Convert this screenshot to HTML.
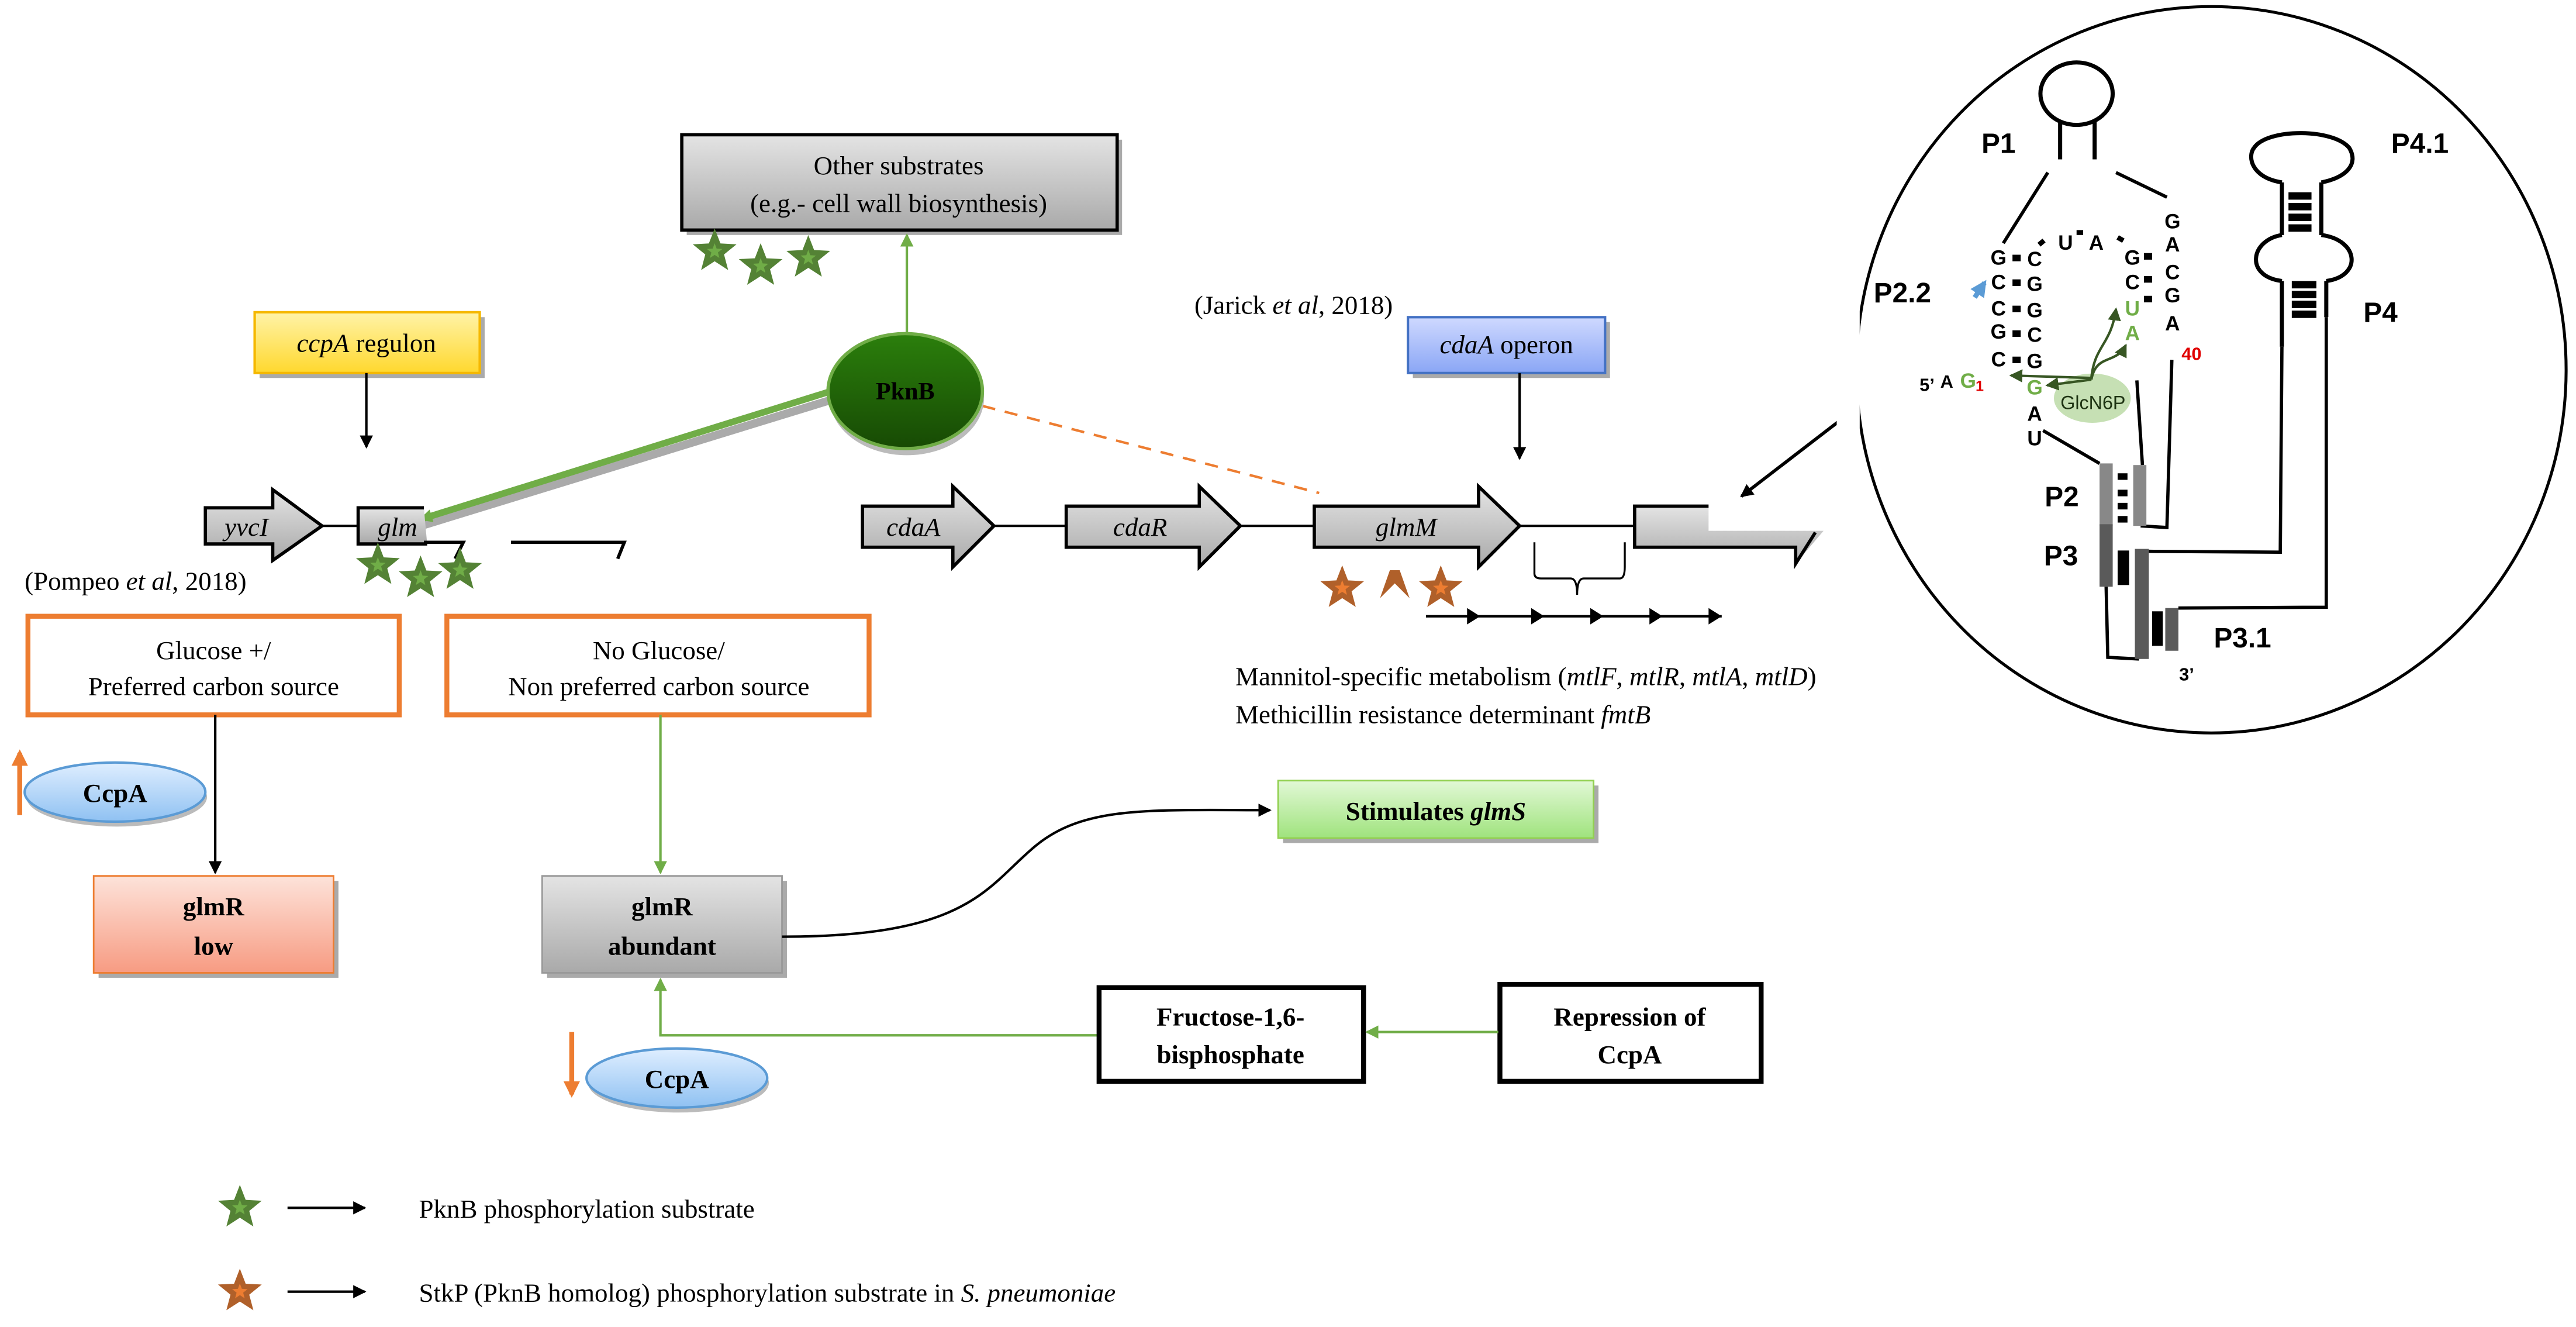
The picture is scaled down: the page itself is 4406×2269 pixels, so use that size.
<!DOCTYPE html>
<html><head><meta charset="utf-8"><style>
html,body{margin:0;padding:0;background:#fff;}
svg{display:block}
.s{font-family:"Liberation Serif",serif;}
.b{font-family:"Liberation Sans",sans-serif;font-weight:bold;}
</style></head><body>
<svg width="4406" height="2269" viewBox="0 0 1568 807.5" xmlns="http://www.w3.org/2000/svg">
<defs>
<linearGradient id="gr" x1="0" y1="0" x2="0" y2="1"><stop offset="0" stop-color="#e4e4e4"/><stop offset="1" stop-color="#a9a9a9"/></linearGradient>
<linearGradient id="yl" x1="0" y1="0" x2="0" y2="1"><stop offset="0" stop-color="#fff3a8"/><stop offset="1" stop-color="#ffd82e"/></linearGradient>
<linearGradient id="bl" x1="0" y1="0" x2="0" y2="1"><stop offset="0" stop-color="#cfd9ff"/><stop offset="1" stop-color="#8aa6f5"/></linearGradient>
<linearGradient id="gn" x1="0" y1="0" x2="0" y2="1"><stop offset="0" stop-color="#e2f8d6"/><stop offset="1" stop-color="#9fe37d"/></linearGradient>
<linearGradient id="rd" x1="0" y1="0" x2="0" y2="1"><stop offset="0" stop-color="#fde3da"/><stop offset="1" stop-color="#f79b82"/></linearGradient>
<linearGradient id="cb" x1="0" y1="0" x2="0" y2="1"><stop offset="0" stop-color="#dfeeff"/><stop offset="1" stop-color="#8fc1f2"/></linearGradient>
<linearGradient id="pk" x1="0" y1="0" x2="0" y2="1"><stop offset="0" stop-color="#2b7f0c"/><stop offset="1" stop-color="#174a04"/></linearGradient>
<marker id="ab" markerWidth="8" markerHeight="8" refX="7" refY="4" orient="auto" markerUnits="userSpaceOnUse"><path d="M0,0 L8,4 L0,8 z" fill="#000"/></marker>
<marker id="ag" markerWidth="8" markerHeight="8" refX="7" refY="4" orient="auto" markerUnits="userSpaceOnUse"><path d="M0,0 L8,4 L0,8 z" fill="#70ad47"/></marker>
<marker id="ao" markerWidth="10" markerHeight="10" refX="8" refY="5" orient="auto" markerUnits="userSpaceOnUse"><path d="M0,0 L10,5 L0,10 z" fill="#ed7d31"/></marker>
<marker id="ad" markerWidth="8" markerHeight="8" refX="7" refY="4" orient="auto" markerUnits="userSpaceOnUse"><path d="M0,0 L8,4 L0,8 z" fill="#375623"/></marker>
<marker id="abl" markerWidth="10" markerHeight="10" refX="8" refY="5" orient="auto" markerUnits="userSpaceOnUse"><path d="M0,0 L10,5 L0,10 z" fill="#5b9bd5"/></marker>
<g id="gs"><polygon points="0,-14 3.53,-4.85 13.31,-4.33 5.71,1.85 8.23,11.33 0,6 -8.23,11.33 -5.71,1.85 -13.31,-4.33 -3.53,-4.85" fill="#548235"/><polygon points="0,-5 1.2,-1.7 4.7,-1.5 2,0.6 2.9,4 0,2.1 -2.9,4 -2,0.6 -4.7,-1.5 -1.2,-1.7" fill="#70ad47"/></g>
<g id="os"><polygon points="0,-14 3.53,-4.85 13.31,-4.33 5.71,1.85 8.23,11.33 0,6 -8.23,11.33 -5.71,1.85 -13.31,-4.33 -3.53,-4.85" fill="#b0602a"/><polygon points="0,-5 1.2,-1.7 4.7,-1.5 2,0.6 2.9,4 0,2.1 -2.9,4 -2,0.6 -4.7,-1.5 -1.2,-1.7" fill="#ed7d31"/></g>
</defs>

<rect x="418" y="85" width="265" height="58" fill="#aaa"/>
<rect x="415" y="82" width="265" height="58" fill="url(#gr)" stroke="#000" stroke-width="2"/>
<text class="s" x="547" y="106" font-size="16" text-anchor="middle">Other substrates</text>
<text class="s" x="547" y="129" font-size="16" text-anchor="middle">(e.g.- cell wall biosynthesis)</text>
<use href="#gs" x="435" y="153"/><use href="#gs" x="463" y="162"/><use href="#gs" x="492" y="157"/>
<line x1="552" y1="203" x2="552" y2="143" stroke="#70ad47" stroke-width="1.5" marker-end="url(#ag)"/>

<rect x="158" y="193" width="137" height="37" fill="#aaa"/>
<rect x="155" y="190" width="137" height="37" fill="url(#yl)" stroke="#f5b800" stroke-width="1.5"/>
<text class="s" x="223" y="214" font-size="16" text-anchor="middle"><tspan font-style="italic">ccpA</tspan>  regulon</text>
<line x1="223" y1="227" x2="223" y2="272" stroke="#000" stroke-width="1.5" marker-end="url(#ab)"/>

<line x1="506" y1="240" x2="252" y2="318" stroke="#aaa" stroke-width="5" transform="translate(1,3)"/>
<line x1="506" y1="238" x2="256" y2="316" stroke="#70ad47" stroke-width="4" marker-end="url(#ag)"/>
<line x1="598" y1="247" x2="803" y2="300" stroke="#ed7d31" stroke-width="1.5" stroke-dasharray="8,6"/>
<ellipse cx="552" cy="242" rx="47" ry="35" fill="#bbb"/>
<ellipse cx="551" cy="238" rx="47" ry="35" fill="url(#pk)" stroke="#70ad47" stroke-width="2"/>
<text class="s" x="551" y="243" font-size="15" font-weight="bold" text-anchor="middle">PknB</text>

<path d="M125,309 H166 V298 L196,320 L166,341 V331 H125 Z" fill="url(#gr)" stroke="#000" stroke-width="2"/>
<text class="s" x="150" y="326" font-size="16" font-style="italic" text-anchor="middle">yvcI</text>
<line x1="196" y1="320" x2="218" y2="320" stroke="#000" stroke-width="1.5"/>
<path d="M258,309 H218 V331 H260" fill="url(#gr)" stroke="#000" stroke-width="2"/>
<text class="s" x="230" y="326" font-size="16" font-style="italic">glm</text>
<path d="M258,330 H282 L277,340" fill="none" stroke="#000" stroke-width="2"/>
<path d="M311,330 H380 L376,340" fill="none" stroke="#000" stroke-width="2"/>
<use href="#gs" x="230" y="344"/><use href="#gs" x="256" y="352"/><use href="#gs" x="280" y="347"/>
<text class="s" x="15" y="359" font-size="16">(Pompeo <tspan font-style="italic">et al</tspan>, 2018)</text>

<rect x="17" y="375" width="226" height="60" fill="#fff" stroke="#ed7d31" stroke-width="3"/>
<text class="s" x="130" y="401" font-size="16" text-anchor="middle">Glucose +/</text>
<text class="s" x="130" y="423" font-size="16" text-anchor="middle">Preferred carbon source</text>
<rect x="272" y="375" width="257" height="60" fill="#fff" stroke="#ed7d31" stroke-width="3"/>
<text class="s" x="401" y="401" font-size="16" text-anchor="middle">No Glucose/</text>
<text class="s" x="401" y="423" font-size="16" text-anchor="middle">Non preferred carbon source</text>
<line x1="131" y1="435" x2="131" y2="531" stroke="#000" stroke-width="1.5" marker-end="url(#ab)"/>
<line x1="402" y1="435" x2="402" y2="531" stroke="#70ad47" stroke-width="1.5" marker-end="url(#ag)"/>

<line x1="12" y1="496" x2="12" y2="458" stroke="#ed7d31" stroke-width="3" marker-end="url(#ao)"/>
<ellipse cx="71" cy="485" rx="55" ry="18" fill="#bbb"/>
<ellipse cx="70" cy="482" rx="55" ry="18" fill="url(#cb)" stroke="#5b9bd5" stroke-width="1.5"/>
<text class="s" x="70" y="488" font-size="16" font-weight="bold" text-anchor="middle">CcpA</text>

<rect x="60" y="536" width="146" height="59" fill="#aaa"/>
<rect x="57" y="533" width="146" height="59" fill="url(#rd)" stroke="#ed7d31" stroke-width="1"/>
<text class="s" x="130" y="557" font-size="16" font-weight="bold" text-anchor="middle">glmR</text>
<text class="s" x="130" y="581" font-size="16" font-weight="bold" text-anchor="middle">low</text>

<rect x="333" y="536" width="146" height="59" fill="#aaa"/>
<rect x="330" y="533" width="146" height="59" fill="url(#gr)" stroke="#999" stroke-width="1"/>
<text class="s" x="403" y="557" font-size="16" font-weight="bold" text-anchor="middle">glmR</text>
<text class="s" x="403" y="581" font-size="16" font-weight="bold" text-anchor="middle">abundant</text>

<path d="M476,570 C590,570 600,540 630,515 C660,490 700,493 773,493" fill="none" stroke="#000" stroke-width="1.5" marker-end="url(#ab)"/>
<rect x="781" y="478" width="192" height="35" fill="#aaa"/>
<rect x="778" y="475" width="192" height="35" fill="url(#gn)" stroke="#92d050" stroke-width="1"/>
<text class="s" x="874" y="499" font-size="16" font-weight="bold" text-anchor="middle">Stimulates <tspan font-style="italic">glmS</tspan></text>

<line x1="348" y1="628" x2="348" y2="666" stroke="#ed7d31" stroke-width="3" marker-end="url(#ao)"/>
<ellipse cx="413" cy="659" rx="55" ry="18" fill="#bbb"/>
<ellipse cx="412" cy="656" rx="55" ry="18" fill="url(#cb)" stroke="#5b9bd5" stroke-width="1.5"/>
<text class="s" x="412" y="662" font-size="16" font-weight="bold" text-anchor="middle">CcpA</text>
<path d="M668,630 H402 V596" fill="none" stroke="#70ad47" stroke-width="1.5" marker-end="url(#ag)"/>
<rect x="669" y="601" width="161" height="57" fill="#fff" stroke="#000" stroke-width="3"/>
<text class="s" x="749" y="624" font-size="16" font-weight="bold" text-anchor="middle">Fructose-1,6-</text>
<text class="s" x="749" y="647" font-size="16" font-weight="bold" text-anchor="middle">bisphosphate</text>
<rect x="913" y="599" width="159" height="59" fill="#fff" stroke="#000" stroke-width="3"/>
<text class="s" x="992" y="624" font-size="16" font-weight="bold" text-anchor="middle">Repression of</text>
<text class="s" x="992" y="647" font-size="16" font-weight="bold" text-anchor="middle">CcpA</text>
<line x1="912" y1="628" x2="832" y2="628" stroke="#70ad47" stroke-width="1.5" marker-end="url(#ag)"/>

<text class="s" x="727" y="191" font-size="16">(Jarick <tspan font-style="italic">et al</tspan>, 2018)</text>
<rect x="860" y="196" width="120" height="34" fill="#aaa"/>
<rect x="857" y="193" width="120" height="34" fill="url(#bl)" stroke="#4472c4" stroke-width="1.5"/>
<text class="s" x="917" y="215" font-size="16" text-anchor="middle"><tspan font-style="italic">cdaA</tspan>  operon</text>
<line x1="925" y1="227" x2="925" y2="279" stroke="#000" stroke-width="1.5" marker-end="url(#ab)"/>
<line x1="605" y1="320" x2="649" y2="320" stroke="#000" stroke-width="1.5"/>
<line x1="755" y1="320" x2="800" y2="320" stroke="#000" stroke-width="1.5"/>
<line x1="925" y1="320" x2="995" y2="320" stroke="#000" stroke-width="1.5"/>
<path d="M525,308 H580 V296 L605,320 L580,345 V333 H525 Z" fill="url(#gr)" stroke="#000" stroke-width="2"/>
<text class="s" x="556" y="326" font-size="16" font-style="italic" text-anchor="middle">cdaA</text>
<path d="M649,308 H730 V296 L755,320 L730,345 V333 H649 Z" fill="url(#gr)" stroke="#000" stroke-width="2"/>
<text class="s" x="694" y="326" font-size="16" font-style="italic" text-anchor="middle">cdaR</text>
<path d="M800,308 H900 V296 L925,320 L900,345 V333 H800 Z" fill="url(#gr)" stroke="#000" stroke-width="2"/>
<text class="s" x="856" y="326" font-size="16" font-style="italic" text-anchor="middle">glmM</text>
<path d="M1040,308 H995 V333 H1093 V343 L1110,323 H1040 Z" fill="url(#gr)"/>
<path d="M1040,308 H995 V333 H1093 V343 L1105,324" fill="none" stroke="#000" stroke-width="2"/>
<path d="M934,330 V349 Q934,352 938,352 H956 Q960,352 960,362 Q960,352 964,352 H986 Q989,352 989,345 V330" fill="none" stroke="#000" stroke-width="1.2"/>
<use href="#os" x="817" y="358"/><use href="#os" x="877" y="358"/>
<path d="M840,364 L846,347 L852,347 L858,364 L849,355 Z" fill="#b0602a"/>
<line x1="868" y1="375" x2="1048" y2="375" stroke="#000" stroke-width="1.5"/>
<g fill="#000"><path d="M893,370 L901,375 L893,380Z"/><path d="M932,370 L940,375 L932,380Z"/><path d="M968,370 L976,375 L968,380Z"/><path d="M1004,370 L1012,375 L1004,380Z"/><path d="M1040,370 L1048,375 L1040,380Z"/></g>
<text class="s" x="752" y="417" font-size="16">Mannitol-specific metabolism (<tspan font-style="italic">mtlF</tspan>, <tspan font-style="italic">mtlR</tspan>, <tspan font-style="italic">mtlA</tspan>, <tspan font-style="italic">mtlD</tspan>)</text>
<text class="s" x="752" y="440" font-size="16">Methicillin resistance determinant <tspan font-style="italic">fmtB</tspan></text>
<line x1="1125" y1="252" x2="1060" y2="302" stroke="#000" stroke-width="2" marker-end="url(#ab)"/>

<ellipse cx="1346" cy="225" rx="216" ry="221" fill="none" stroke="#000" stroke-width="1.8"/>
<rect x="1118" y="140" width="14" height="185" fill="#fff"/>
<g stroke="#000" stroke-width="2" fill="none">
<ellipse cx="1264" cy="57" rx="22" ry="19" stroke-width="2.5"/>
<line x1="1254" y1="73" x2="1254" y2="97" stroke-width="2.5"/>
<line x1="1275" y1="73" x2="1275" y2="97" stroke-width="2.5"/>
<line x1="1246.5" y1="105" x2="1219.4" y2="148"/>
<line x1="1288" y1="105" x2="1319" y2="120"/>
<line x1="1243.6" y1="262" x2="1278" y2="282"/>
<line x1="1300.7" y1="231.5" x2="1304.1" y2="283"/>
<polyline points="1322,219 1319,321 1303,320"/>
<polyline points="1282,357 1283,400 1302,401"/>
<polyline points="1308,335.5 1388,336 1389,211"/>
<polyline points="1326,370 1416,369.5 1416,193"/>
<path d="M1389,111 C1370,108 1368,95 1372,90 C1380,78 1420,78 1430,90 C1436,100 1428,108 1413,111" stroke-width="2.5"/>
<line x1="1389" y1="111" x2="1389" y2="143" stroke-width="2.5"/>
<line x1="1413" y1="111" x2="1413" y2="143" stroke-width="2.5"/>
<path d="M1389,143 C1370,146 1366,168 1389,171 M1413,143 C1436,146 1438,168 1416,171" stroke-width="2.5"/>
<line x1="1389" y1="171" x2="1389" y2="211" stroke-width="2.5"/>
<line x1="1416" y1="171" x2="1416" y2="193" stroke-width="2.5"/>
</g>
<g fill="#000">
<rect x="1393" y="117" width="14" height="4.5"/><rect x="1393" y="123.5" width="14" height="4.5"/><rect x="1393" y="130" width="14" height="4.5"/><rect x="1393" y="136.5" width="14" height="4.5"/>
<rect x="1395" y="171" width="15" height="4.5"/><rect x="1395" y="177" width="15" height="4.5"/><rect x="1395" y="183" width="15" height="4.5"/><rect x="1395" y="189" width="15" height="4.5"/>
</g>
<rect x="1278" y="282" width="8" height="38" fill="#888"/>
<rect x="1298.5" y="283" width="8" height="37" fill="#888"/>
<rect x="1278" y="319" width="8" height="38" fill="#5a5a5a"/>
<rect x="1299.5" y="334" width="8.5" height="67" fill="#5a5a5a"/>
<rect x="1318" y="370" width="8" height="26" fill="#5a5a5a"/>
<g fill="#000">
<rect x="1289" y="288" width="6" height="4"/><rect x="1289" y="298" width="6" height="4"/><rect x="1289" y="306" width="6" height="4"/><rect x="1289" y="314" width="6" height="4"/>
<rect x="1289" y="335" width="7" height="21"/>
<rect x="1310" y="372" width="6.5" height="21"/>
<rect x="1225" y="155" width="5" height="4"/><rect x="1225" y="170" width="5" height="4"/><rect x="1225" y="186" width="5" height="4"/><rect x="1225" y="201" width="5" height="4"/><rect x="1225" y="217" width="5" height="4"/>
<rect x="1305" y="154" width="5" height="4"/><rect x="1305" y="168" width="5" height="4"/><rect x="1305" y="180" width="5" height="4"/>
<rect x="1264" y="140" width="4" height="3"/>
<rect x="1241" y="146" width="4" height="3" transform="rotate(-40 1243 148)"/>
<rect x="1289" y="144" width="4" height="3" transform="rotate(30 1291 145)"/>
</g>
<g class="b" font-size="12.5" text-anchor="middle">
<text x="1216.5" y="161">G</text><text x="1216.5" y="176">C</text><text x="1216.5" y="192">C</text><text x="1216.5" y="206">G</text><text x="1216.5" y="223">C</text>
<text x="1238.5" y="162">C</text><text x="1238.5" y="177">G</text><text x="1238.5" y="193">G</text><text x="1238.5" y="208">C</text><text x="1238.5" y="224">G</text>
<text x="1257.3" y="152">U</text><text x="1276" y="152">A</text>
<text x="1298" y="161">G</text><text x="1298" y="176">C</text><text x="1298" y="192" fill="#70ad47">U</text><text x="1298" y="207" fill="#70ad47">A</text>
<text x="1322.4" y="139">G</text><text x="1322.4" y="153">A</text><text x="1322.4" y="170">C</text><text x="1322.4" y="184">G</text><text x="1322.4" y="201">A</text>
<text x="1334" y="219" fill="#e00000" font-size="11">40</text>
<text x="1173" y="238" font-size="11">5’</text><text x="1185" y="236" font-size="11">A</text><text x="1198" y="236" fill="#70ad47">G</text><text x="1205" y="238" fill="#e00000" font-size="9">1</text>
<text x="1238.5" y="240" fill="#70ad47">G</text><text x="1238.5" y="256">A</text><text x="1238.5" y="271">U</text>
</g>
<ellipse cx="1273.6" cy="242.3" rx="23.4" ry="15" fill="#c6e0b4"/>
<text x="1274" y="249" font-family="Liberation Sans, sans-serif" font-size="11.5" text-anchor="middle" fill="#1d3312">GlcN6P</text>
<g stroke="#375623" stroke-width="1.5" fill="none">
<path d="M1273,230 L1224,228.5" marker-end="url(#ad)"/>
<path d="M1273,231 L1246,234.5" marker-end="url(#ad)"/>
<path d="M1273,230 C1275,210 1285,210 1288,188" marker-end="url(#ad)"/>
<path d="M1273,231 C1276,215 1288,222 1294,210" marker-end="url(#ad)"/>
</g>
<line x1="1202" y1="181" x2="1208" y2="172" stroke="#5b9bd5" stroke-width="3" marker-end="url(#abl)"/>
<g class="b" font-size="17" text-anchor="middle">
<text x="1216.5" y="93">P1</text><text x="1473" y="93">P4.1</text><text x="1449" y="196">P4</text>
<text x="1158" y="184">P2.2</text><text x="1255" y="308">P2</text><text x="1254.5" y="344">P3</text><text x="1365" y="394">P3.1</text>
<text x="1331" y="414" font-size="11">3’</text>
</g>

<use href="#gs" x="146" y="735"/>
<line x1="175" y1="735" x2="222" y2="735" stroke="#000" stroke-width="1.5" marker-end="url(#ab)"/>
<text class="s" x="255" y="741" font-size="16">PknB phosphorylation substrate</text>
<use href="#os" x="146" y="786"/>
<line x1="175" y1="786" x2="222" y2="786" stroke="#000" stroke-width="1.5" marker-end="url(#ab)"/>
<text class="s" x="255" y="792" font-size="16">StkP (PknB homolog) phosphorylation substrate in <tspan font-style="italic">S. pneumoniae</tspan></text>
</svg>
</body></html>
